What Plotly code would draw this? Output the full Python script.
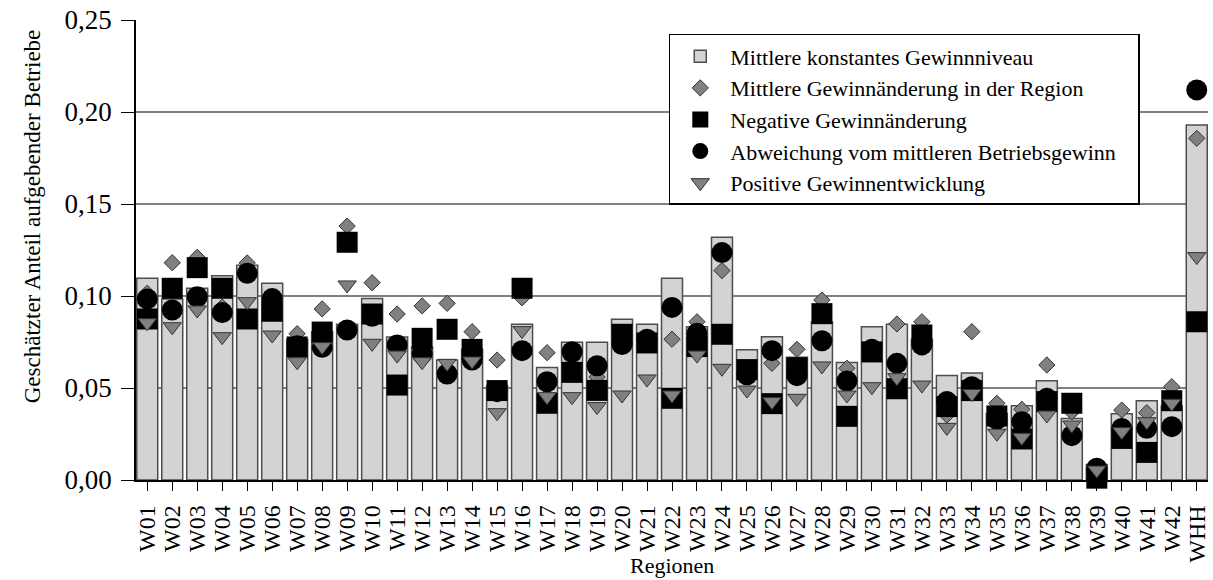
import plotly.graph_objects as go

regions = ["W01", "W02", "W03", "W04", "W05", "W06", "W07", "W08", "W09", "W10",
           "W11", "W12", "W13", "W14", "W15", "W16", "W17", "W18", "W19", "W20",
           "W21", "W22", "W23", "W24", "W25", "W26", "W27", "W28", "W29", "W30",
           "W31", "W32", "W33", "W34", "W35", "W36", "W37", "W38", "W39", "W40",
           "W41", "W42", "WHH"]

konstant = [0.1096, 0.0984, 0.1042, 0.1110, 0.1167, 0.1069, 0.0764, 0.0806, 0.0847, 0.0986,
            0.0777, 0.0721, 0.0652, 0.0710, 0.0514, 0.0846, 0.0612, 0.0749, 0.0749, 0.0874,
            0.0847, 0.1096, 0.0833, 0.1319, 0.0708, 0.0779, 0.0667, 0.0860, 0.0639, 0.0833,
            0.0847, 0.0765, 0.0568, 0.0582, 0.0362, 0.0403, 0.0540, 0.0334, 0.0084, 0.0360,
            0.0431, 0.0402, 0.1929]

mittel_aenderung = [0.1015, 0.1181, 0.1210, 0.0940, 0.1180, 0.0950, 0.0795, 0.0930, 0.1380, 0.1072,
                    0.0902, 0.0946, 0.0960, 0.0806, 0.0652, 0.0990, 0.0692, 0.0660, 0.0560, 0.0760,
                    0.0750, 0.0765, 0.0860, 0.1138, 0.0600, 0.0634, 0.0710, 0.0978, 0.0607, 0.0720,
                    0.0848, 0.0860, 0.0353, 0.0806, 0.0417, 0.0384, 0.0625, 0.0370, 0.0040, 0.0380,
                    0.0366, 0.0507, 0.1857]

negativ = [0.0875, 0.1042, 0.1154, 0.1042, 0.0875, 0.0917, 0.0723, 0.0804, 0.1292, 0.0902,
           0.0516, 0.0770, 0.0819, 0.0710, 0.0486, 0.1042, 0.0417, 0.0585, 0.0487, 0.0792,
           0.0745, 0.0444, 0.0725, 0.0792, 0.0600, 0.0415, 0.0610, 0.0904, 0.0346, 0.0696,
           0.0496, 0.0788, 0.0399, 0.0486, 0.0348, 0.0223, 0.0426, 0.0417, 0.0010, 0.0226,
           0.0150, 0.0431, 0.0860]

abweichung = [0.0984, 0.0924, 0.0996, 0.0910, 0.1123, 0.0986, 0.0730, 0.0721, 0.0815, 0.0890,
              0.0734, 0.0688, 0.0576, 0.0652, 0.0480, 0.0703, 0.0534, 0.0697, 0.0621, 0.0736,
              0.0765, 0.0938, 0.0797, 0.1236, 0.0572, 0.0703, 0.0567, 0.0757, 0.0538, 0.0710,
              0.0634, 0.0734, 0.0426, 0.0507, 0.0330, 0.0317, 0.0444, 0.0241, 0.0064, 0.0280,
              0.0281, 0.0290, 0.2120]

positiv = [0.0855, 0.0833, 0.0924, 0.0779, 0.0969, 0.0788, 0.0643, 0.0725, 0.1060, 0.0743,
           0.0679, 0.0643, 0.0634, 0.0647, 0.0366, 0.0812, 0.0453, 0.0453, 0.0399, 0.0462,
           0.0549, 0.0462, 0.0679, 0.0607, 0.0489, 0.0426, 0.0444, 0.0620, 0.0462, 0.0507,
           0.0556, 0.0516, 0.0286, 0.0470, 0.0254, 0.0232, 0.0353, 0.0299, 0.0054, 0.0263,
           0.0317, 0.0417, 0.1214]

y_ticks = [0.0, 0.05, 0.10, 0.15, 0.20, 0.25]

FONT = "Liberation Serif, Times New Roman, serif"

fig = go.Figure()
fig.add_trace(go.Bar(
    x=regions, y=konstant, name="Mittlere konstantes Gewinnniveau",
    marker=dict(color="#d3d3d3", line=dict(color="#4d4d4d", width=1.5)),
))
fig.add_trace(go.Scatter(
    x=regions, y=mittel_aenderung, mode="markers", name="Mittlere Gewinnänderung in der Region",
    marker=dict(symbol="diamond", size=12.5, color="#808080", line=dict(color="#333333", width=1)),
    cliponaxis=False,
))
fig.add_trace(go.Scatter(
    x=regions, y=negativ, mode="markers", name="Negative Gewinnänderung",
    marker=dict(symbol="square", size=21, color="black", line=dict(width=0)),
    cliponaxis=False,
))
fig.add_trace(go.Scatter(
    x=regions, y=abweichung, mode="markers",
    name="Abweichung vom mittleren Betriebsgewinn\u00a0\u00a0\u00a0",
    marker=dict(symbol="circle", size=21, color="black", line=dict(width=0)),
    cliponaxis=False,
))
fig.add_trace(go.Scatter(
    x=regions, y=positiv, mode="markers", name="Positive Gewinnentwicklung",
    marker=dict(symbol="triangle-down", size=16, color="#808080", line=dict(color="#333333", width=1)),
    cliponaxis=False,
))

fig.update_layout(
    width=1213, height=580,
    margin=dict(l=136, r=3, t=20, b=100),
    plot_bgcolor="white", paper_bgcolor="white",
    font=dict(family=FONT, size=22, color="black"),
    separators=",.",
    bargap=0.16,
    showlegend=True,
    legend=dict(
        x=0.497, y=0.9696, xanchor="left", yanchor="top",
        bgcolor="white", bordercolor="black", borderwidth=1.5,
        itemwidth=50, font=dict(family=FONT, size=22, color="black"),
        traceorder="normal",
    ),
    xaxis=dict(
        type="category", range=[-0.45, 42.45],
        tickmode="array", tickvals=regions, ticktext=regions,
        showline=True, linecolor="black", linewidth=1.5,
        ticks="outside", ticklen=9, tickcolor="black", tickwidth=1,
        tickangle=-90, showgrid=False, ticklabelstandoff=5,
        tickfont=dict(family=FONT, size=24),
    ),
    yaxis=dict(
        range=[0, 0.25], tickvals=y_ticks, tickformat=".2f",
        showline=True, linecolor="black", linewidth=1.5,
        ticks="outside", ticklen=13, tickcolor="black", tickwidth=1,
        showgrid=True, gridcolor="#808080", gridwidth=1.5, zeroline=False,
        ticklabelstandoff=4, tickfont=dict(family=FONT, size=27),
    ),
    annotations=[
        dict(text="Geschätzter Anteil aufgebender Betriebe", xref="paper", yref="paper",
             x=-0.0958, y=0.574, xanchor="center", yanchor="middle", textangle=-90,
             showarrow=False, font=dict(family=FONT, size=23)),
        dict(text="Regionen", xref="paper", yref="paper",
             x=0.5, y=-0.185, xanchor="center", yanchor="middle",
             showarrow=False, font=dict(family=FONT, size=22)),
    ],
)

fig.write_html("out.html", config={"displayModeBar": False},
               post_script="document.body.style.margin='0';")
